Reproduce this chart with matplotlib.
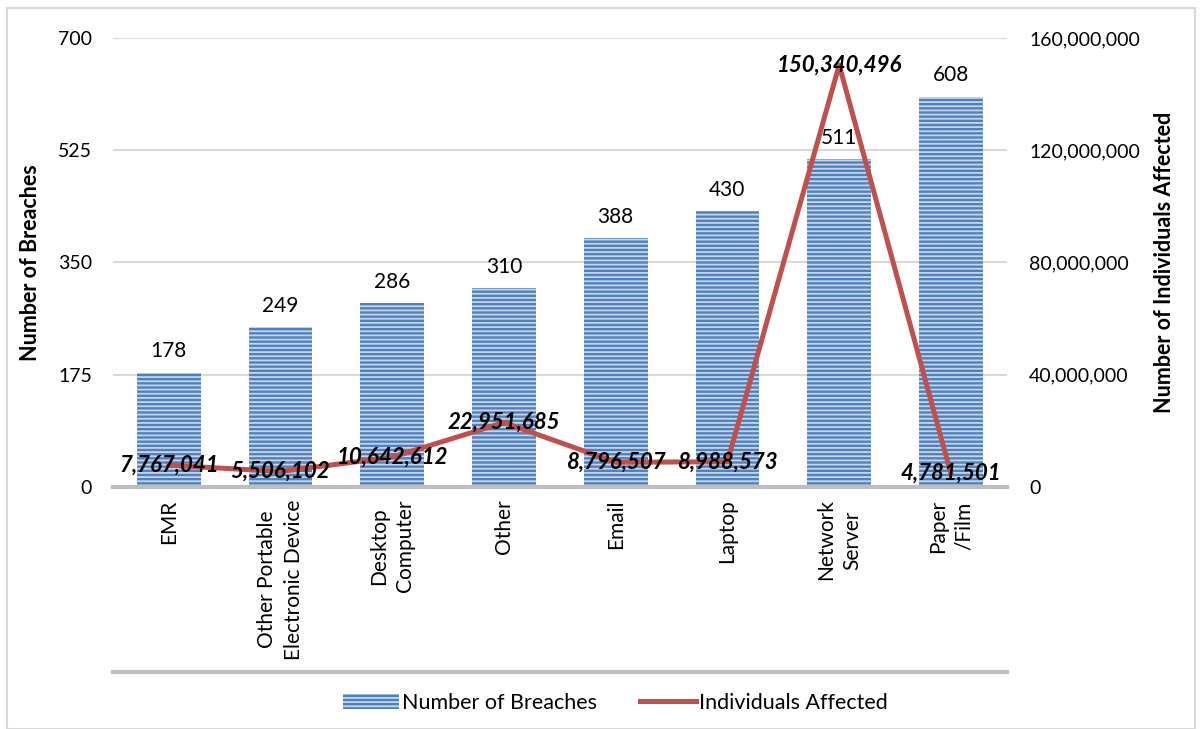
import matplotlib
matplotlib.use("Agg")
import matplotlib.pyplot as plt
from matplotlib.lines import Line2D
from matplotlib.patches import Rectangle

plt.rcParams['font.family'] = ['Lato', 'DejaVu Sans']
plt.rcParams['hatch.linewidth'] = 1.3

# data
categories = ["EMR", "Other Portable\nElectronic Device", "Desktop\nComputer", "Other",
              "Email", "Laptop", "Network\nServer", "Paper\n/Film"]
breaches = [178, 249, 286, 310, 388, 430, 511, 608]
individuals = [7767041, 5506102, 10642612, 22951685, 8796507, 8988573, 150340496, 4781501]
left_ticks = [0, 175, 350, 525, 700]
right_ticks = [0, 40000000, 80000000, 120000000, 160000000]

bar_blue = "#4F81BD"
stripe = "#C5D6EC"
line_red = "#C0504D"
grid_gray = "#D9D9D9"
axis_gray = "#BFBFBF"

fig = plt.figure(figsize=(12, 7.29), dpi=100)
fig.patches.append(Rectangle((0.006, 0.0), 0.99, 0.989, transform=fig.transFigure,
                             fill=False, edgecolor="#D9D9D9", linewidth=1.5))
ax = fig.add_axes([0.094, 0.332, 0.745, 0.616])
x = list(range(len(categories)))

ax.bar(x, breaches, width=0.57, color=bar_blue, linewidth=0, zorder=2)
ax.bar(x, breaches, width=0.57, facecolor="none", edgecolor=stripe, hatch="----",
       linewidth=0, zorder=3)

ax.set_xlim(-0.5, len(categories) - 0.5)
ax.set_ylim(0, 700)
ax.set_yticks(left_ticks)
ax.set_yticklabels([str(t) for t in left_ticks], fontsize=14)
ax.yaxis.grid(True, color=grid_gray, linewidth=1.5, zorder=0)
ax.set_axisbelow(True)
ax.tick_params(axis='y', length=0, pad=15)
ax.set_xticks(x)
ax.set_xticklabels(categories, rotation=90, fontsize=15, va='top', ha='center',
                   multialignment='center', linespacing=1.4)
ax.tick_params(axis='x', length=0, pad=9)
for s in ['top', 'right', 'left']:
    ax.spines[s].set_visible(False)
ax.spines['bottom'].set_color(axis_gray)
ax.spines['bottom'].set_linewidth(3)
ax.spines['bottom'].set_zorder(5)
ax.set_ylabel("Number of Breaches", fontsize=15.5, fontweight='bold', labelpad=12)

# line under category labels
ax.add_line(Line2D([0, 1], [-0.412, -0.412], transform=ax.transAxes, color=axis_gray,
                   linewidth=3, clip_on=False))

ax2 = ax.twinx()
ax2.plot(x, individuals, color=line_red, linewidth=3.6, zorder=3)
ax2.set_ylim(0, 160000000)
ax2.set_yticks(right_ticks)
ax2.set_yticklabels([f"{t:,}" for t in right_ticks], fontsize=14)
ax2.tick_params(axis='y', length=0, pad=16)
for s in ['top', 'right', 'left', 'bottom']:
    ax2.spines[s].set_visible(False)
ax2.set_ylabel("Number of Individuals Affected", fontsize=15.5, fontweight='bold', labelpad=10)

# bar labels drawn on top of the line
for xi, b in zip(x, breaches):
    ax2.text(xi, b + 18, str(b), transform=ax.transData, ha='center', va='bottom',
             fontsize=15, zorder=6)

for xi, v in zip(x, individuals):
    ax2.text(xi, v, f"{v:,}", ha='center', va='center', fontsize=16,
             fontweight='bold', style='italic', zorder=7)

handles = [Rectangle((0, 0), 1, 1, facecolor=bar_blue, edgecolor=stripe, hatch="----", linewidth=0),
           Line2D([0], [0], color=line_red, linewidth=3.6)]
fig.legend(handles, ["Number of Breaches", "Individuals Affected"], loc='center',
           bbox_to_anchor=(0.513, 0.036), ncol=2, frameon=False, fontsize=15.5,
           handlelength=2.6, handletextpad=0.15, columnspacing=2.0)

fig.savefig("out.png", dpi=100)
